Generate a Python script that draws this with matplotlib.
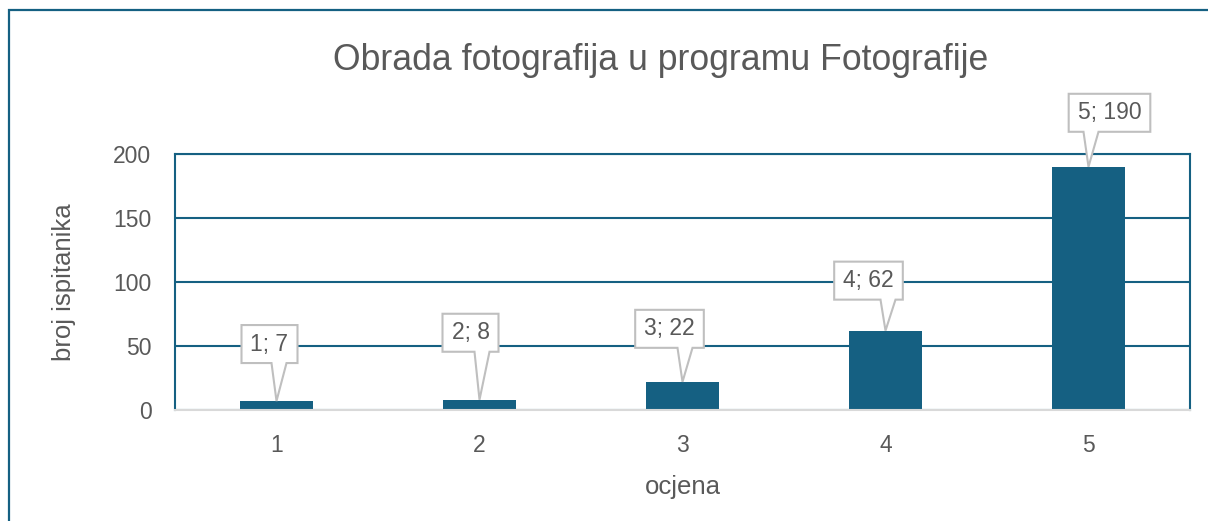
import matplotlib
matplotlib.use("Agg")
import matplotlib.pyplot as plt
from matplotlib.patches import Polygon, Rectangle
from matplotlib.transforms import IdentityTransform

# ---- data ----
categories = [1, 2, 3, 4, 5]
values = [7, 8, 22, 62, 190]
labels = [f"{c}; {v}" for c, v in zip(categories, values)]
title = "Obrada fotografija u programu Fotografije"
xlabel = "ocjena"
ylabel = "broj ispitanika"
yticks = [0, 50, 100, 150, 200]

# ---- layout of callouts (pixel offsets) ----
box_dx = [-7, -9, -13, -17, 21]      # box centre offset from bar centre
box_gap = [38, 48, 34, 31, 35]       # gap between bar top and box bottom
box_h = 38

ACC = "#156082"
TXT = "#595959"
plt.rcParams['font.family'] = ['Liberation Sans', 'DejaVu Sans']

W, H = 1208, 521
fig = plt.figure(figsize=(W / 100, H / 100), dpi=100)
fig.patch.set_facecolor("white")

# outer chart border (right/bottom edges fall outside the image)
fig.add_artist(Rectangle((8.5 / W, -0.1), 1.2, 1 - 10 / H + 0.1,
                         transform=fig.transFigure, fill=False,
                         edgecolor=ACC, linewidth=1.6))

ax = fig.add_axes([175 / W, 1 - 410 / H, (1190 - 175) / W, (410 - 154) / H])
ax.bar(categories, values, width=0.355, color=ACC, zorder=3)
ax.set_xlim(0.5, 5.5)
ax.set_ylim(0, 200)
ax.set_yticks(yticks)
ax.set_xticks(categories)
ax.grid(axis="y", color=ACC, linewidth=1.5, zorder=1)
ax.tick_params(axis="both", length=0, labelsize=16.5, labelcolor=TXT)
ax.tick_params(axis="y", pad=17)
ax.tick_params(axis="x", pad=17)
for s in ["left", "right", "top"]:
    ax.spines[s].set_color(ACC)
    ax.spines[s].set_linewidth(1.5)
ax.spines["bottom"].set_color("#D9D9D9")
ax.spines["bottom"].set_linewidth(1.5)
ax.spines["bottom"].set_zorder(4)

ax.set_xlabel(xlabel, fontsize=18.5, color=TXT, labelpad=13)
ax.set_ylabel(ylabel, fontsize=18.5, color=TXT, labelpad=27)
fig.text(661 / W, 1 - 61 / H, title, fontsize=25.7, color=TXT,
         ha="center", va="center")

fig.canvas.draw()
renderer = fig.canvas.get_renderer()
for x, v, lab, dx, gap in zip(categories, values, labels, box_dx, box_gap):
    tx, ty = ax.transData.transform((x, v))
    t = fig.text(0, 0, lab, fontsize=16.5, color=TXT, ha="center", va="center",
                 transform=IdentityTransform(), zorder=11)
    bb = t.get_window_extent(renderer)
    bw = bb.width + 18
    cx = tx + dx
    yb = ty + gap
    yt = yb + box_h
    l, r = cx - bw / 2, cx + bw / 2
    b1 = max(tx - 5, l + 2)
    b2 = min(tx + 10, r - 2)
    verts = [(tx, ty), (b2, yb), (r, yb), (r, yt), (l, yt), (l, yb), (b1, yb)]
    fig.add_artist(Polygon(verts, closed=True, facecolor="white",
                           edgecolor="#BFBFBF", linewidth=1.5,
                           transform=IdentityTransform(), zorder=10))
    t.set_position((cx, (yb + yt) / 2))

fig.savefig("out.png", dpi=100)
